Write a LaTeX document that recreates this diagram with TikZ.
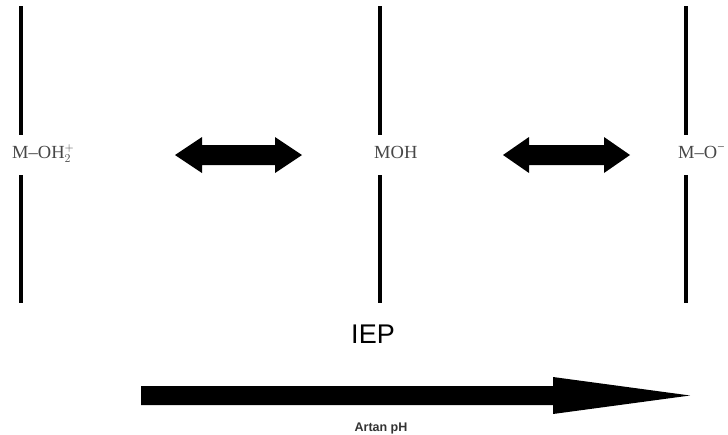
\documentclass[tikz,border=0pt]{standalone}
\usepackage{fontspec}
\setmainfont{Liberation Serif}
\setsansfont{Liberation Sans}
\begin{document}
\begin{tikzpicture}[x=1pt,y=-1pt,
  vline/.style={line width=3.6pt},
  species/.style={anchor=base west,inner sep=0pt,text=black!72,font=\fontsize{18.5}{20}\selectfont},
  bigarrow/.style={fill=black}]
\useasboundingbox (0,0) rectangle (728,434);
% vertical lines with gaps
\foreach \n/\x in {1/21,2/380,3/686}{
  \coordinate (t\n) at (\x,6);
  \coordinate (a\n) at (\x,135);
  \coordinate (b\n) at (\x,175);
  \coordinate (u\n) at (\x,303);
  \draw[vline] (t\n) -- (a\n);
  \draw[vline] (b\n) -- (u\n);
}
% species labels
\node[species] (s1) at (12,158) {M–OH$^{+}_{2}$};
\node[species] (s2) at (374,158) {MOH};
\node[species] (s3) at (678,158) {M–O\textsuperscript{−}};
% double arrows
\fill[bigarrow] (175,155) -- (202,137) -- (202,145) -- (275,145) -- (275,137) -- (302,155)
  -- (275,173) -- (275,165) -- (202,165) -- (202,173) -- cycle;
\fill[bigarrow] (503,155) -- (529,137) -- (529,145) -- (604,145) -- (604,137) -- (630,155)
  -- (604,173) -- (604,165) -- (529,165) -- (529,173) -- cycle;
% IEP
\node[anchor=base,inner sep=0pt,font=\sffamily\fontsize{27}{30}\selectfont] (iep) at (373,343) {IEP};
% pH arrow
\fill[bigarrow] (141,386) -- (553,386) -- (553,377) -- (690,395.5) -- (553,414) -- (553,405) -- (141,405) -- cycle;
\node[anchor=base,inner sep=0pt,text=black!80,font=\sffamily\bfseries\fontsize{12.5}{14}\selectfont] (ph) at (381,431) {Artan pH};
\end{tikzpicture}
\end{document}
